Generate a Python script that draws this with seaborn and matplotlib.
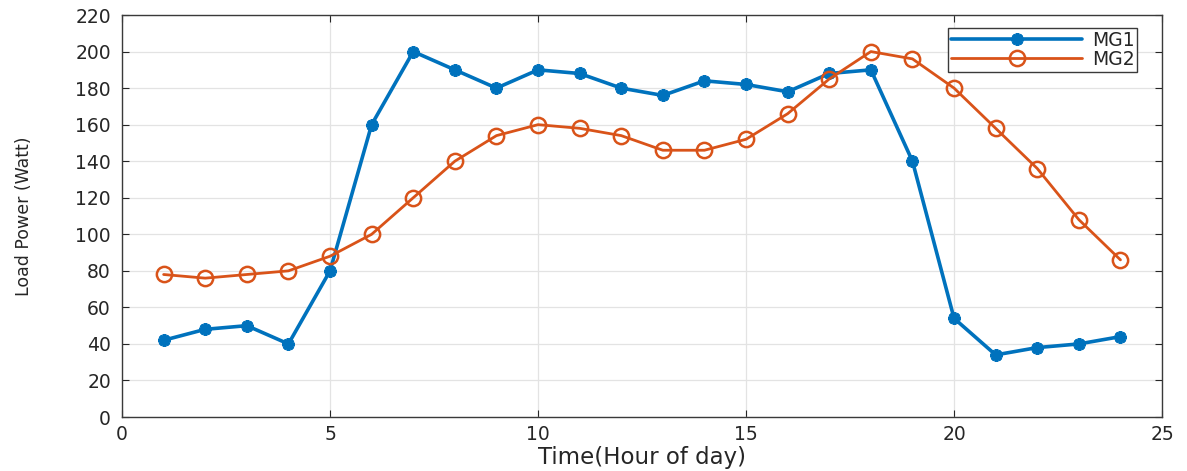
import matplotlib
matplotlib.use("Agg")
import matplotlib.pyplot as plt
import seaborn as sns
import pandas as pd

# Hourly load profiles of the two microgrids
hours = list(range(1, 25))
mg1_load = [42, 48, 50, 40, 80, 160, 200, 190, 180, 190, 188, 180,
            176, 184, 182, 178, 188, 190, 140, 54, 34, 38, 40, 44]
mg2_load = [78, 76, 78, 80, 88, 100, 120, 140, 154, 160, 158, 154,
            146, 146, 152, 166, 185, 200, 196, 180, 158, 136, 108, 86]

x_ticks = [0, 5, 10, 15, 20, 25]
y_ticks = list(range(0, 221, 20))

sns.set_theme(style="whitegrid")
plt.rcParams["font.family"] = ["DejaVu Sans"]
plt.rcParams.update({
    "xtick.bottom": True, "xtick.top": True,
    "ytick.left": True, "ytick.right": True,
    "xtick.direction": "in", "ytick.direction": "in",
    "xtick.major.size": 5, "ytick.major.size": 5,
    "xtick.major.width": 0.8, "ytick.major.width": 0.8,
})

df1 = pd.DataFrame({"hour": hours, "load": mg1_load})
df2 = pd.DataFrame({"hour": hours, "load": mg2_load})

fig = plt.figure(figsize=(11.87, 4.71), dpi=100)
ax = fig.add_axes([0.1028, 0.1146, 0.8762, 0.8535])

blue = "#0072BD"
orange = "#D95319"

sns.lineplot(data=df1, x="hour", y="load", ax=ax, color=blue, lw=2.6,
             marker=(8, 2, 0), markersize=9, markeredgewidth=2.6,
             markeredgecolor=blue, label="MG1")
sns.lineplot(data=df2, x="hour", y="load", ax=ax, color=orange, lw=2.0,
             marker="o", markersize=11, markerfacecolor="none",
             markeredgewidth=1.8, markeredgecolor=orange, label="MG2")

ax.set_xlim(0, 25)
ax.set_ylim(0, 220)
ax.set_xticks(x_ticks)
ax.set_yticks(y_ticks)
ax.tick_params(axis="both", colors="#262626", labelsize=13.5, pad=8)
ax.tick_params(axis="x", pad=6)

ax.grid(True, color="#e3e3e3", lw=0.9)
for sp in ax.spines.values():
    sp.set_color("#3a3a3a")
    sp.set_linewidth(1.0)

ax.set_xlabel("Time(Hour of day)", fontsize=16.5, color="#262626", labelpad=1)
ax.set_ylabel("Load Power (Watt)", fontsize=12.5, color="#262626",
              labelpad=30)

leg = ax.legend(loc="upper right", bbox_to_anchor=(0.976, 0.968),
                fontsize=13.5, handlelength=7.0, numpoints=1,
                frameon=True, fancybox=False, framealpha=1,
                edgecolor="#3a3a3a", borderpad=0.15, labelspacing=0.0,
                handletextpad=0.5, borderaxespad=0)
leg.get_frame().set_linewidth(1.0)

fig.savefig("out.png", dpi=100)
